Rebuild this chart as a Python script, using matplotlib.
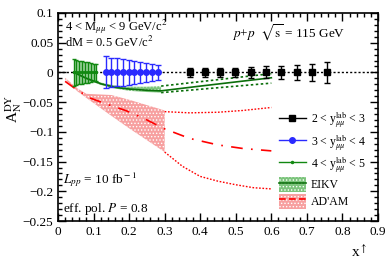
import matplotlib
matplotlib.use('Agg')
import matplotlib.pyplot as plt
from matplotlib.lines import Line2D
from matplotlib.patches import Patch
from matplotlib.ticker import MultipleLocator

plt.rcParams['font.family'] = ['Liberation Serif', 'DejaVu Serif']
plt.rcParams['mathtext.fontset'] = 'stix'
plt.rcParams['hatch.linewidth'] = 0.6

# --- data ---
# 2 < y < 3 (black squares)
x_y23 = [0.370, 0.413, 0.456, 0.499, 0.542, 0.585, 0.628, 0.671, 0.714, 0.757]
a_y23 = [0, 0, 0, 0, 0, 0, 0, 0, 0, 0]
e_y23 = [0.007, 0.008, 0.008, 0.008, 0.009, 0.010, 0.011, 0.013, 0.015, 0.018]
# 3 < y < 4 (blue circles)
x_y34 = [0.134, 0.150, 0.166, 0.182, 0.199, 0.215, 0.231, 0.247, 0.264, 0.280]
a_y34 = [0, 0, 0, 0, 0, 0, 0, 0, 0, 0]
e_y34 = [0.027, 0.025, 0.0235, 0.022, 0.0205, 0.019, 0.0175, 0.016, 0.014, 0.0125]
# 4 < y < 5 (green)
x_y45 = [0.044, 0.052, 0.060, 0.068, 0.076, 0.084, 0.092, 0.100, 0.108]
a_y45 = [0, 0, 0, 0, 0, 0, 0, 0, 0]
e_y45 = [0.022, 0.021, 0.020, 0.019, 0.018, 0.017, 0.016, 0.015, 0.014]

# EIKV curve
x_eikv = [0.045, 0.08, 0.12, 0.16, 0.2, 0.25, 0.29, 0.4, 0.5, 0.6]
a_eikv = [0.0, -0.010, -0.019, -0.025, -0.028, -0.030, -0.031, -0.023, -0.016, -0.009]
x_eikv_band = [0.045, 0.08, 0.12, 0.16, 0.2, 0.25, 0.29]
hi_eikv_band = [0.002, -0.008, -0.017, -0.022, -0.024, -0.024, -0.023]
lo_eikv_band = [-0.002, -0.012, -0.021, -0.027, -0.031, -0.033, -0.034]
x_eikv_ext = [0.29, 0.6]
hi_eikv_ext = [-0.023, -0.002]
lo_eikv_ext = [-0.034, -0.018]

# AD'AM curve
x_adam = [0.02, 0.05, 0.09, 0.14, 0.19, 0.24, 0.27, 0.3, 0.37, 0.45, 0.52, 0.6]
a_adam = [-0.015, -0.028, -0.043, -0.054, -0.064, -0.077, -0.086, -0.095, -0.111, -0.122, -0.128, -0.132]
x_adam_band = [0.02, 0.055, 0.08, 0.15, 0.2, 0.25, 0.3]
hi_adam_band = [-0.009, -0.027, -0.036, -0.038, -0.046, -0.055, -0.064]
lo_adam_band = [-0.012, -0.032, -0.043, -0.073, -0.094, -0.114, -0.134]
x_adam_hi = [0.3, 0.37, 0.45, 0.52, 0.6]
hi_adam_ext = [-0.066, -0.068, -0.067, -0.064, -0.059]
x_adam_lo = [0.3, 0.35, 0.4, 0.45, 0.5, 0.55, 0.6]
lo_adam_ext = [-0.134, -0.158, -0.175, -0.183, -0.189, -0.194, -0.196]

green = '#118811'
dgreen = '#0a6e0a'
blue = '#2a2aff'
pink = '#f7a0a0'
lgreen = '#7cc47c'

fig = plt.figure(figsize=(3.9, 2.65), dpi=100)
ax = fig.add_axes([58 / 390, 44 / 265, 320 / 390, 208 / 265])

ax.axhline(0, color='black', ls=(0, (1.5, 1.5)), lw=1.0, zorder=1)

# AD'AM
ax.fill_between(x_adam_band, lo_adam_band, hi_adam_band, facecolor=pink,
                edgecolor='white', hatch='.....', lw=0, zorder=2)
ax.plot(x_adam, a_adam, color='red', lw=1.2, ls=(0, (7, 5, 1, 5)), zorder=3)
ax.plot(x_adam_hi, hi_adam_ext, color='red', lw=1.0, ls=(0, (1.2, 1.2)), zorder=3)
ax.plot(x_adam_lo, lo_adam_ext, color='red', lw=1.0, ls=(0, (1.2, 1.2)), zorder=3)

# EIKV
ax.fill_between(x_eikv_band, lo_eikv_band, hi_eikv_band, facecolor=lgreen,
                edgecolor='white', hatch='.....', lw=0, zorder=2)
ax.plot(x_eikv, a_eikv, color=dgreen, lw=1.2, zorder=3)
ax.plot(x_eikv_ext, hi_eikv_ext, color=dgreen, lw=1.2, ls=(0, (1.5, 1.5)), zorder=3)
ax.plot(x_eikv_ext, lo_eikv_ext, color=dgreen, lw=1.2, ls=(0, (1.5, 1.5)), zorder=3)

# measured projections
ax.fill_between(x_y45, [a - e for a, e in zip(a_y45, e_y45)],
                [a + e for a, e in zip(a_y45, e_y45)], color='#5fba5f', alpha=0.6,
                lw=0, zorder=2)
ax.errorbar(x_y45, a_y45, yerr=e_y45, color=green, marker='o', ms=1.5, lw=1.0,
            capsize=1.5, zorder=4)
ax.errorbar(x_y34, a_y34, yerr=e_y34, color=blue, marker='o', ms=4, lw=1.0,
            capsize=2.5, zorder=4)
ax.errorbar(x_y23, a_y23, yerr=e_y23, color='black', marker='s', ms=4, lw=1.0,
            capsize=2.5, ls='none', zorder=4)

ax.set_xlim(0, 0.9)
ax.set_ylim(-0.25, 0.1)
ax.xaxis.set_major_locator(MultipleLocator(0.1))
ax.xaxis.set_minor_locator(MultipleLocator(0.02))
ax.yaxis.set_major_locator(MultipleLocator(0.05))
ax.yaxis.set_minor_locator(MultipleLocator(0.01))
ax.xaxis.set_major_formatter(plt.FuncFormatter(lambda v, p: '0' if abs(v) < 1e-9 else f'{v:g}'))
ax.yaxis.set_major_formatter(plt.FuncFormatter(lambda v, p: '0' if abs(v) < 1e-9 else f'{v:g}'.replace('-', '\u2212')))
ax.tick_params(which='both', direction='in', top=True, right=True, labelsize=9.5, width=1.0)
ax.tick_params(which='major', length=6)
ax.tick_params(which='minor', length=3)
for s in ax.spines.values():
    s.set_linewidth(1.2)

ax.set_xlabel(r'x$^{\uparrow}$', fontsize=11)
ax.xaxis.set_label_coords(0.94, -0.11)
ax.set_ylabel(r'A$_{\rm N}^{\rm DY}$', fontsize=11)
ax.yaxis.set_label_coords(-0.105, 0.54)

ax.text(0.021, 0.071, r'4 < M$_{\mu\mu}$ < 9 GeV/c$^{2}$', fontsize=9, va='baseline')
ax.text(0.021, 0.043, r'dM = 0.5 GeV/c$^{2}$', fontsize=9, va='baseline')
ax.text(0.489, 0.058, r'$p$+$p$  $\sqrt{\rm s}$ = 115 GeV', fontsize=9.5, va='baseline')
ax.text(0.013, -0.186, r'$L_{pp}$ = 10 fb$^{\rm -1}$', fontsize=9.5, va='baseline')
ax.text(0.013, -0.235, r'eff. pol. $P$ = 0.8', fontsize=9.5, va='baseline')

handles = [
    Line2D([], [], color='black', marker='s', ms=4, lw=1.0),
    Line2D([], [], color=blue, marker='o', ms=4, lw=1.0),
    Line2D([], [], color=green, marker='o', ms=1.5, lw=1.0),
    (Patch(facecolor=lgreen, edgecolor='white', hatch='.....', lw=0),
     Line2D([], [], color=dgreen, lw=1.2)),
    (Patch(facecolor=pink, edgecolor='white', hatch='.....', lw=0),
     Line2D([], [], color='red', lw=1.2, ls=(0, (4, 2)))),
]
labels = [r'2 < y$_{\mu\mu}^{\rm lab}$ < 3', r'3 < y$_{\mu\mu}^{\rm lab}$ < 4',
          r'4 < y$_{\mu\mu}^{\rm lab}$ < 5', 'EIKV', "AD'AM"]
ax.legend(handles, labels, loc='upper left', bbox_to_anchor=(0.69, 0.535),
          frameon=False, fontsize=8.5, handlelength=2.3, handleheight=1.6,
          labelspacing=0.15, handletextpad=0.4, borderpad=0, borderaxespad=0)

fig.savefig('out.png', dpi=100)
